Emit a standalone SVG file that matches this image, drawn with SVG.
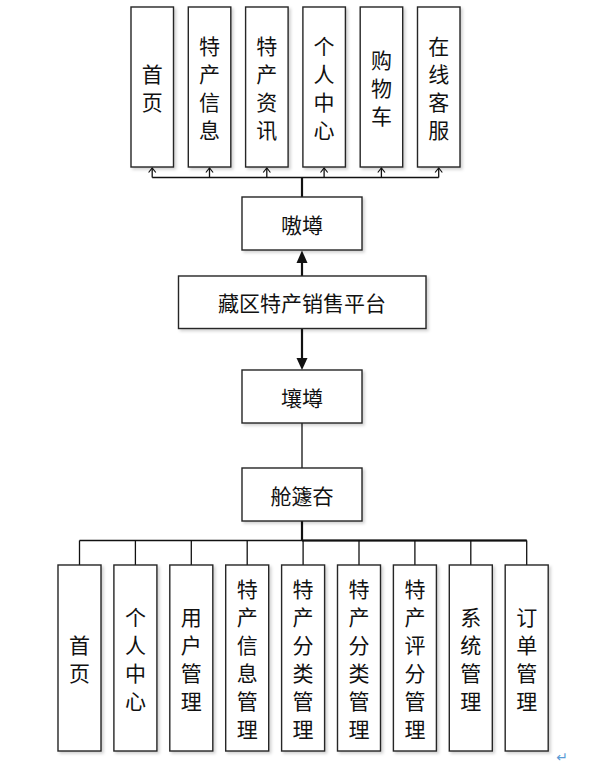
<svg xmlns="http://www.w3.org/2000/svg" width="616" height="774" viewBox="0 0 616 774">
<style>
.box{fill:#fff;stroke:#262626;stroke-width:1.4;filter:url(#sh)}
.t{font-family:"Noto Sans CJK SC","Noto Sans CJK JP",sans-serif;font-size:21px;fill:#111;text-anchor:middle;dominant-baseline:central}
.ln{stroke:#111;stroke-width:1.3;fill:none}
.th{stroke:#111;stroke-width:2.2;fill:none}
</style>
<defs>
<filter id="sh" x="-20%" y="-20%" width="150%" height="150%">
<feDropShadow dx="2" dy="2" stdDeviation="1.5" flood-color="#000" flood-opacity="0.18"/>
</filter>
<marker id="open" viewBox="0 0 10 10" refX="9" refY="5" markerWidth="9" markerHeight="9" markerUnits="userSpaceOnUse" orient="auto">
<path d="M4,1 L9,5 L4,9" fill="none" stroke="#111" stroke-width="1.3"/>
</marker>
</defs>

<g id="connectors">
<!-- top fan -->
<line class="ln" x1="152.2" y1="177.5" x2="438.7" y2="177.5"/>
<line class="th" x1="302" y1="177" x2="302" y2="197"/>
<line class="ln" x1="152.2" y1="177.5" x2="152.2" y2="168" marker-end="url(#open)"/>
<line class="ln" x1="209.5" y1="177.5" x2="209.5" y2="168" marker-end="url(#open)"/>
<line class="ln" x1="266.8" y1="177.5" x2="266.8" y2="168" marker-end="url(#open)"/>
<line class="ln" x1="324.1" y1="177.5" x2="324.1" y2="168" marker-end="url(#open)"/>
<line class="ln" x1="381.4" y1="177.5" x2="381.4" y2="168" marker-end="url(#open)"/>
<line class="ln" x1="438.7" y1="177.5" x2="438.7" y2="168" marker-end="url(#open)"/>
<!-- platform to front -->
<line class="th" x1="302" y1="276" x2="302" y2="262"/>
<path d="M296.5,263 L302,250.5 L307.5,263 Z" fill="#111"/>
<!-- platform to back -->
<line class="th" x1="302" y1="328" x2="302" y2="359"/>
<path d="M296.5,358 L302,370 L307.5,358 Z" fill="#111"/>
<!-- back to admin -->
<line class="ln" x1="302" y1="423" x2="302" y2="468"/>
<line class="th" x1="302" y1="521" x2="302" y2="540.5"/>
<!-- bottom fan -->
<line class="ln" x1="79.5" y1="540.5" x2="526.7" y2="540.5"/>
<line class="th" x1="302" y1="540.5" x2="526.7" y2="540.5" stroke-width="1.8"/>
<line class="ln" x1="79.5" y1="540.5" x2="79.5" y2="565"/>
<line class="ln" x1="135.4" y1="540.5" x2="135.4" y2="565"/>
<line class="ln" x1="191.3" y1="540.5" x2="191.3" y2="565"/>
<line class="ln" x1="247.2" y1="540.5" x2="247.2" y2="565"/>
<line class="ln" x1="303.1" y1="540.5" x2="303.1" y2="565"/>
<line class="ln" x1="359" y1="540.5" x2="359" y2="565"/>
<line class="ln" x1="414.9" y1="540.5" x2="414.9" y2="565"/>
<line class="ln" x1="470.8" y1="540.5" x2="470.8" y2="565"/>
<line class="ln" x1="526.7" y1="540.5" x2="526.7" y2="565"/>
</g>

<!-- top row -->
<g id="top-home"><rect class="box" x="131" y="7" width="42.5" height="160"/>
<text class="t"><tspan x="152.2" y="73">首</tspan><tspan x="152.2" y="101">页</tspan></text></g>
<g id="top-info"><rect class="box" x="188.3" y="7" width="42.5" height="160"/>
<text class="t"><tspan x="209.5" y="45">特</tspan><tspan x="209.5" y="73">产</tspan><tspan x="209.5" y="101">信</tspan><tspan x="209.5" y="129">息</tspan></text></g>
<g id="top-news"><rect class="box" x="245.6" y="7" width="42.5" height="160"/>
<text class="t"><tspan x="266.8" y="45">特</tspan><tspan x="266.8" y="73">产</tspan><tspan x="266.8" y="101">资</tspan><tspan x="266.8" y="129">讯</tspan></text></g>
<g id="top-user"><rect class="box" x="302.9" y="7" width="42.5" height="160"/>
<text class="t"><tspan x="324.1" y="45">个</tspan><tspan x="324.1" y="73">人</tspan><tspan x="324.1" y="101">中</tspan><tspan x="324.1" y="129">心</tspan></text></g>
<g id="top-cart"><rect class="box" x="360.2" y="7" width="42.5" height="160"/>
<text class="t"><tspan x="381.4" y="59">购</tspan><tspan x="381.4" y="87">物</tspan><tspan x="381.4" y="115">车</tspan></text></g>
<g id="top-service"><rect class="box" x="417.5" y="7" width="42.5" height="160"/>
<text class="t"><tspan x="438.7" y="45">在</tspan><tspan x="438.7" y="73">线</tspan><tspan x="438.7" y="101">客</tspan><tspan x="438.7" y="129">服</tspan></text></g>

<!-- middle -->
<g id="front"><rect class="box" x="242" y="197" width="120" height="53"/>
<text class="t" x="302" y="223.5">嗷墫</text></g>
<g id="platform"><rect class="box" x="178.5" y="276" width="247.5" height="52.5"/>
<text class="t" x="302" y="302">藏区特产销售平台</text></g>
<g id="back"><rect class="box" x="242" y="370" width="120" height="53"/>
<text class="t" x="302" y="396.5">壤墫</text></g>
<g id="admin"><rect class="box" x="242" y="468" width="120" height="53"/>
<text class="t" x="302" y="494.5">舱籧夻</text></g>

<!-- bottom row -->
<g id="b-home"><rect class="box" x="58" y="565" width="43" height="186"/>
<text class="t"><tspan x="79.5" y="644">首</tspan><tspan x="79.5" y="672">页</tspan></text></g>
<g id="b-user"><rect class="box" x="113.9" y="565" width="43" height="186"/>
<text class="t"><tspan x="135.4" y="616">个</tspan><tspan x="135.4" y="644">人</tspan><tspan x="135.4" y="672">中</tspan><tspan x="135.4" y="700">心</tspan></text></g>
<g id="b-usermgr"><rect class="box" x="169.8" y="565" width="43" height="186"/>
<text class="t"><tspan x="191.3" y="616">用</tspan><tspan x="191.3" y="644">户</tspan><tspan x="191.3" y="672">管</tspan><tspan x="191.3" y="700">理</tspan></text></g>
<g id="b-infomgr"><rect class="box" x="225.7" y="565" width="43" height="186"/>
<text class="t"><tspan x="247.2" y="588">特</tspan><tspan x="247.2" y="616">产</tspan><tspan x="247.2" y="644">信</tspan><tspan x="247.2" y="672">息</tspan><tspan x="247.2" y="700">管</tspan><tspan x="247.2" y="728">理</tspan></text></g>
<g id="b-catmgr1"><rect class="box" x="281.6" y="565" width="43" height="186"/>
<text class="t"><tspan x="303.1" y="588">特</tspan><tspan x="303.1" y="616">产</tspan><tspan x="303.1" y="644">分</tspan><tspan x="303.1" y="672">类</tspan><tspan x="303.1" y="700">管</tspan><tspan x="303.1" y="728">理</tspan></text></g>
<g id="b-catmgr2"><rect class="box" x="337.5" y="565" width="43" height="186"/>
<text class="t"><tspan x="359" y="588">特</tspan><tspan x="359" y="616">产</tspan><tspan x="359" y="644">分</tspan><tspan x="359" y="672">类</tspan><tspan x="359" y="700">管</tspan><tspan x="359" y="728">理</tspan></text></g>
<g id="b-ratemgr"><rect class="box" x="393.4" y="565" width="43" height="186"/>
<text class="t"><tspan x="414.9" y="588">特</tspan><tspan x="414.9" y="616">产</tspan><tspan x="414.9" y="644">评</tspan><tspan x="414.9" y="672">分</tspan><tspan x="414.9" y="700">管</tspan><tspan x="414.9" y="728">理</tspan></text></g>
<g id="b-sysmgr"><rect class="box" x="449.3" y="565" width="43" height="186"/>
<text class="t"><tspan x="470.8" y="616">系</tspan><tspan x="470.8" y="644">统</tspan><tspan x="470.8" y="672">管</tspan><tspan x="470.8" y="700">理</tspan></text></g>
<g id="b-ordermgr"><rect class="box" x="505.2" y="565" width="43" height="186"/>
<text class="t"><tspan x="526.7" y="616">订</tspan><tspan x="526.7" y="644">单</tspan><tspan x="526.7" y="672">管</tspan><tspan x="526.7" y="700">理</tspan></text></g>

<text x="562" y="757" font-family="DejaVu Sans, sans-serif" font-size="14" fill="#5b9bd5" text-anchor="middle" dominant-baseline="central">↵</text>
</svg>
